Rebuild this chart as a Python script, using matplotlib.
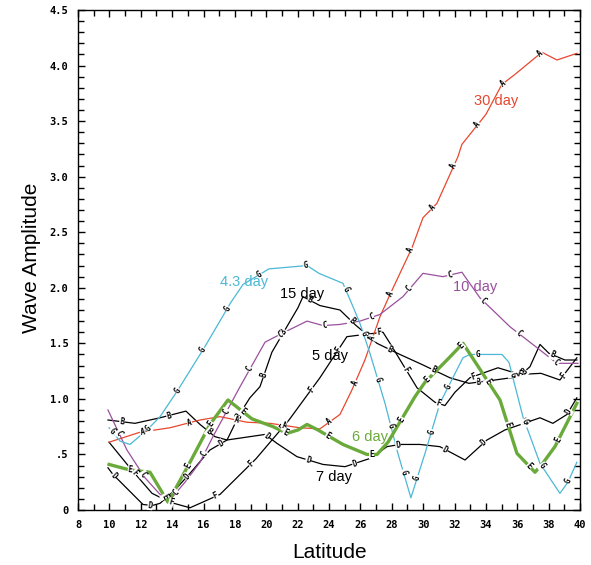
import numpy as np
import matplotlib.pyplot as plt
from matplotlib.ticker import MultipleLocator, FixedLocator

# -------------------------------
# DATA
# -------------------------------
lat_30 = [9.98, 11.95, 13.86, 15.78, 17.05, 18.77, 20.24, 22.15, 23.42, 24.70, 25.46,
          26.29, 27.25, 27.89, 29.29, 29.99, 30.88, 32.22, 32.47, 34.00, 35.02, 35.85,
          37.57, 38.53, 39.80]
amp_30 = [0.61, 0.70, 0.74, 0.81, 0.84, 0.79, 0.78, 0.74, 0.73, 0.86, 1.08,
          1.35, 1.74, 1.94, 2.36, 2.63, 2.76, 3.18, 3.29, 3.56, 3.83, 3.92,
          4.12, 4.05, 4.11]

lat_10 = [9.91, 11.12, 12.27, 13.23, 13.86, 14.82, 15.78, 16.60, 18.33, 19.92, 20.87,
          22.60, 23.62, 24.70, 25.97, 27.25, 28.71, 29.99, 31.26, 32.47, 33.62, 35.53,
          37.45, 38.53, 39.87]
amp_10 = [0.90, 0.54, 0.29, 0.14, 0.09, 0.25, 0.43, 0.66, 1.11, 1.51, 1.58,
          1.70, 1.66, 1.67, 1.70, 1.76, 1.92, 2.13, 2.10, 2.14, 1.91, 1.65,
          1.44, 1.32, 1.32]

lat_43 = [9.98, 10.68, 11.31, 12.40, 13.23, 14.37, 16.09, 17.75, 18.52, 20.17, 22.60,
          23.36, 24.89, 25.53, 25.97, 26.61, 27.57, 28.39, 29.22, 30.12, 31.07, 32.54,
          32.98, 35.02, 35.47, 36.36, 37.45, 38.72, 39.23, 39.80]
amp_43 = [0.74, 0.62, 0.59, 0.72, 0.84, 1.08, 1.47, 1.87, 2.03, 2.17, 2.20,
          2.13, 2.04, 1.83, 1.68, 1.41, 0.96, 0.51, 0.11, 0.51, 0.96, 1.37,
          1.40, 1.40, 1.33, 0.84, 0.42, 0.15, 0.25, 0.43]

lat_6 = [9.98, 11.31, 12.59, 13.74, 15.14, 16.41, 17.56, 19.09, 20.43, 21.32, 22.02,
         22.60, 23.30, 24.89, 26.42, 27.06, 27.76, 29.48, 30.12, 31.52, 32.54, 33.56,
         34.90, 35.98, 37.13, 37.57, 38.40, 39.80]
amp_6 = [0.41, 0.36, 0.34, 0.07, 0.43, 0.77, 0.99, 0.82, 0.75, 0.69, 0.72,
         0.77, 0.72, 0.59, 0.50, 0.50, 0.61, 1.02, 1.15, 1.35, 1.50, 1.28,
         0.99, 0.51, 0.34, 0.41, 0.57, 0.96]

lat_7 = [9.91, 10.23, 12.14, 12.72, 13.23, 14.18, 15.14, 16.41, 17.50, 19.92, 20.68,
         21.96, 23.62, 25.02, 26.74, 27.69, 28.52, 29.80, 31.07, 32.67, 34.07, 35.21,
         37.45, 38.27, 39.17, 39.80]
amp_7 = [0.38, 0.32, 0.05, 0.04, 0.06, 0.18, 0.33, 0.54, 0.63, 0.68, 0.60,
         0.48, 0.41, 0.39, 0.47, 0.57, 0.59, 0.59, 0.57, 0.45, 0.63, 0.72,
         0.83, 0.78, 0.86, 1.01]

lat_15 = [9.91, 11.63, 13.23, 14.88, 15.78, 16.73, 17.50, 18.33, 18.96, 19.60, 20.36,
          22.02, 22.34, 23.42, 24.70, 25.65, 27.06, 28.52, 29.92, 31.71, 32.92, 34.58,
          36.11, 36.81, 37.45, 38.02, 39.04, 39.80]
amp_15 = [0.81, 0.78, 0.83, 0.89, 0.77, 0.66, 0.63, 0.87, 1.01, 1.11, 1.42,
          1.82, 1.92, 1.84, 1.80, 1.67, 1.50, 1.40, 1.31, 1.19, 1.14, 1.17,
          1.20, 1.29, 1.49, 1.41, 1.35, 1.35]

lat_5 = [9.98, 11.31, 12.72, 13.86, 15.14, 17.05, 19.34, 21.45, 23.42, 25.14, 26.29,
         27.44, 27.89, 29.61, 30.75, 31.39, 32.03, 32.98, 34.77, 36.17, 37.51, 38.72,
         39.80]
amp_5 = [0.61, 0.38, 0.15, 0.07, 0.02, 0.14, 0.46, 0.81, 1.19, 1.56, 1.58,
         1.60, 1.50, 1.10, 0.97, 0.94, 1.06, 1.19, 1.28, 1.22, 1.23, 1.17,
         1.37]

x_ticks = list(range(8, 41, 2))
x_tick_labels = [str(v) for v in x_ticks]
y_ticks = [0, 0.5, 1.0, 1.5, 2.0, 2.5, 3.0, 3.5, 4.0, 4.5]
y_tick_labels = ["0", ".5", "1.0", "1.5", "2.0", "2.5", "3.0", "3.5", "4.0", "4.5"]

# -------------------------------
# FIGURE
# -------------------------------
fig = plt.figure(figsize=(5.91, 5.65), dpi=100)
ax = fig.add_axes([78 / 591, 55 / 565, 502 / 591, 500 / 565])
ax.set_xlim(8, 40)
ax.set_ylim(0, 4.5)

RED = "#e8472e"
PURPLE = "#9a509e"
CYAN = "#4bb8d6"
GREEN = "#6aaa3a"

series = [
    (lat_15, amp_15, "black", 0.9, "B", 14),
    (lat_5, amp_5, "black", 0.9, "F", 40),
    (lat_7, amp_7, "black", 0.9, "D", 10),
    (lat_30, amp_30, RED, 0.9, "A", 35),
    (lat_10, amp_10, PURPLE, 0.9, "C", 25),
    (lat_43, amp_43, CYAN, 0.9, "G", 4),
    (lat_6, amp_6, GREEN, 2.4, "E", 22),
]

for x, y, c, lw, ch, start in series:
    ax.plot(x, y, color=c, lw=lw, zorder=3 if c != GREEN else 4)


def letter_marks(x, y, ch, start, step=48):
    pts = ax.transData.transform(np.column_stack([x, y]))
    seg = np.hypot(np.diff(pts[:, 0]), np.diff(pts[:, 1]))
    cum = np.concatenate([[0], np.cumsum(seg)])
    inv = ax.transData.inverted()
    for s in np.arange(start, cum[-1] - 5, step):
        i = int(np.clip(np.searchsorted(cum, s) - 1, 0, len(seg) - 1))
        t = (s - cum[i]) / seg[i]
        p = pts[i] + t * (pts[i + 1] - pts[i])
        ang = np.degrees(np.arctan2(pts[i + 1, 1] - pts[i, 1], pts[i + 1, 0] - pts[i, 0]))
        if ang > 90:
            ang -= 180
        if ang < -90:
            ang += 180
        xd, yd = inv.transform(p)
        ax.text(xd, yd, ch, rotation=ang, rotation_mode="anchor", ha="center", va="center",
                fontsize=5.5, fontweight="bold", family="DejaVu Sans Mono", color="black",
                zorder=6,
                bbox=dict(facecolor="white", edgecolor="none", pad=0.2))


for x, y, c, lw, ch, start in series:
    letter_marks(x, y, ch, start)

# curve names
lab = dict(fontsize=10.5, family="Liberation Sans", ha="center", va="center", zorder=7)
ax.text(34.64, 3.68, "30 day", color=RED, **lab)
ax.text(33.30, 2.01, "10 day", color=PURPLE, **lab)
ax.text(18.58, 2.05, "4.3 day", color=CYAN, **lab)
ax.text(22.28, 1.94, "15 day", color="black", **lab)
ax.text(24.06, 1.39, "5 day", color="black", **lab)
ax.text(26.61, 0.66, "6 day", color=GREEN, **lab)
ax.text(24.32, 0.30, "7 day", color="black", **lab)

# ticks
ax.xaxis.set_major_locator(FixedLocator(x_ticks))
ax.set_xticklabels(x_tick_labels)
ax.xaxis.set_minor_locator(MultipleLocator(1))
ax.yaxis.set_major_locator(FixedLocator(y_ticks))
ax.set_yticklabels(y_tick_labels)
ax.yaxis.set_minor_locator(MultipleLocator(0.1))
ax.tick_params(which="both", direction="in", top=True, right=True, width=1.0)
ax.tick_params(which="major", length=5, pad=7)
ax.tick_params(which="minor", length=4.5)
for t in ax.get_xticklabels() + ax.get_yticklabels():
    t.set_family("DejaVu Sans Mono")
    t.set_fontsize(7.5)
    t.set_fontweight("bold")
for sp in ax.spines.values():
    sp.set_linewidth(1.0)

fig.text(330 / 591, 1 - 552 / 565, "Latitude", fontsize=15, family="Liberation Sans",
         ha="center", va="center")
fig.text(32 / 591, 1 - 258 / 565, "Wave Amplitude", fontsize=15, family="Liberation Sans",
         ha="center", va="center", rotation=90)

fig.savefig("out.png", dpi=100)
